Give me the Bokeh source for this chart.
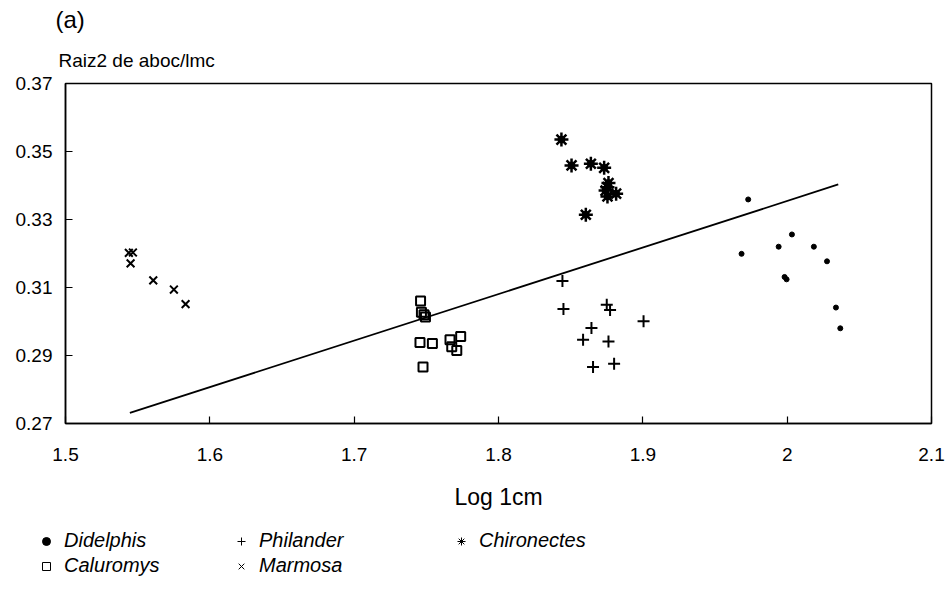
from bokeh.plotting import figure
from bokeh.models import Legend, LegendItem, FixedTicker, ColumnDataSource, Title
from bokeh.embed import file_html
from bokeh.resources import INLINE

# ---- data ----
didelphis_x = [1.973, 2.0033, 1.9941, 1.9684, 2.0185, 2.0276, 1.9982, 1.9996, 2.0338, 2.0368]
didelphis_y = [0.3359, 0.3256, 0.3220, 0.3199, 0.3220, 0.3177, 0.3131, 0.3124, 0.3041, 0.2980]

caluromys_x = [1.7460, 1.7466, 1.7484, 1.7494, 1.7456, 1.7542, 1.7664, 1.7738, 1.7676, 1.7711, 1.7477]
caluromys_y = [0.3060, 0.3027, 0.3020, 0.3013, 0.2938, 0.2935, 0.2946, 0.2956, 0.2926, 0.2915, 0.2866]

philander_x = [1.8443, 1.8450, 1.8750, 1.8773, 1.9005, 1.8644, 1.8586, 1.8762, 1.8655, 1.8801]
philander_y = [0.3119, 0.3037, 0.3049, 0.3034, 0.3001, 0.2981, 0.2946, 0.2941, 0.2866, 0.2876]

marmosa_x = [1.5439, 1.5467, 1.5451, 1.5608, 1.5751, 1.5832]
marmosa_y = [0.3202, 0.3203, 0.3171, 0.3121, 0.3094, 0.3051]

chironectes_x = [1.8436, 1.8506, 1.8640, 1.8732, 1.8762, 1.8755, 1.8755, 1.8815, 1.8605, 1.8742]
chironectes_y = [0.3535, 0.3459, 0.3464, 0.3452, 0.3407, 0.3395, 0.3368, 0.3376, 0.3314, 0.3385]

fit_x = [1.5446, 2.0354]
fit_y = [0.2731, 0.3403]

x_ticks = [1.5, 1.6, 1.7, 1.8, 1.9, 2.0, 2.1]
x_tick_labels = ["1.5", "1.6", "1.7", "1.8", "1.9", "2", "2.1"]
y_ticks = [0.27, 0.29, 0.31, 0.33, 0.35, 0.37]
y_tick_labels = ["0.27", "0.29", "0.31", "0.33", "0.35", "0.37"]

series_names = ["Didelphis", "Caluromys", "Philander", "Marmosa", "Chironectes"]

FONT = "Liberation Sans"

# ---------------- main chart ----------------
p = figure(width=952, height=520, output_backend="svg", toolbar_location=None,
           x_range=(1.5, 2.1), y_range=(0.27, 0.37),
           min_border_left=65, min_border_right=21, min_border_top=83, min_border_bottom=97)
p.background_fill_color = "white"
p.border_fill_color = "white"
p.grid.visible = False
p.outline_line_color = "black"
p.outline_line_width = 1.5

for ax in (p.xaxis[0], p.yaxis[0]):
    ax.axis_line_width = 1.5
    ax.major_tick_in = 7
    ax.major_tick_out = 0
    ax.minor_tick_in = 0
    ax.minor_tick_out = 0
    ax.major_tick_line_width = 1.2
    ax.major_label_text_font = FONT
    ax.major_label_text_font_size = "19px"
    ax.major_label_text_color = "black"

p.xaxis[0].ticker = FixedTicker(ticks=x_ticks)
p.yaxis[0].ticker = FixedTicker(ticks=y_ticks)
p.xaxis[0].major_label_overrides = {t: l for t, l in zip(x_ticks, x_tick_labels)}
p.yaxis[0].major_label_overrides = {t: l for t, l in zip(y_ticks, y_tick_labels)}
p.xaxis[0].major_label_standoff = 24
p.yaxis[0].major_label_standoff = 13

p.xaxis[0].axis_label = "Log 1cm"
p.xaxis[0].axis_label_text_font = FONT
p.xaxis[0].axis_label_text_font_size = "23px"
p.xaxis[0].axis_label_text_font_style = "normal"
p.xaxis[0].axis_label_text_color = "black"
p.xaxis[0].axis_label_standoff = 20

# titles above the plot
t1 = Title(text="Raiz2 de aboc/lmc", align="left", offset=-7, standoff=26,
           text_font=FONT, text_font_size="19px", text_font_style="normal", text_color="black")
t2 = Title(text="(a)", align="left", offset=-10, standoff=3,
           text_font=FONT, text_font_size="24px", text_font_style="normal", text_color="black")
p.add_layout(t1, "above")
p.add_layout(t2, "above")

# regression line
p.line(fit_x, fit_y, line_color="black", line_width=1.8)

# data
p.scatter(didelphis_x, didelphis_y, marker="circle", size=5, fill_color="black", line_color="black")
p.scatter(caluromys_x, caluromys_y, marker="square", size=9, fill_color=None, line_color="black", line_width=2)
p.scatter(philander_x, philander_y, marker="cross", size=12, line_color="black", line_width=2)
p.scatter(marmosa_x, marmosa_y, marker="x", size=11, line_color="black", line_width=2)
p.scatter(chironectes_x, chironectes_y, marker="asterisk", size=14, line_color="black", line_width=2.5)
p.scatter(chironectes_x, chironectes_y, marker="circle", size=7, fill_color="black", line_color="black")

# ---------------- legend strip (separate root, full-width frame) ----------------
lf = figure(width=952, height=71, output_backend="svg", toolbar_location=None,
            x_range=(0, 1), y_range=(0, 1), min_border=0,
            x_axis_type=None, y_axis_type=None)
lf.grid.visible = False
lf.outline_line_color = None
lf.background_fill_color = "white"
lf.border_fill_color = "white"

# swatch renderers: one point each, placed outside the strip's visible range
def swatch(**kw):
    return lf.scatter("x", "y", source=ColumnDataSource(dict(x=[-5], y=[-5])), **kw)

l_did = swatch(marker="circle", size=7, fill_color="black", line_color="black")
l_cal = swatch(marker="square", size=9, fill_color=None, line_color="black", line_width=1)
l_phi = swatch(marker="cross", size=9, line_color="black", line_width=1)
l_mar = swatch(marker="x", size=7, line_color="black", line_width=1)
l_chi = swatch(marker="asterisk", size=6, line_color="black", line_width=1)


def add_legend(items, loc):
    lg = Legend(items=items, location=loc, orientation="vertical")
    lg.border_line_color = None
    lg.background_fill_alpha = 0
    lg.padding = 0
    lg.margin = 0
    lg.spacing = 2
    lg.glyph_width = 20
    lg.glyph_height = 20
    lg.label_height = 20
    lg.label_standoff = 8
    lg.label_text_font = FONT
    lg.label_text_font_style = "italic"
    lg.label_text_font_size = "20px"
    lg.label_text_color = "black"
    lf.add_layout(lg, "center")


add_legend([LegendItem(label=series_names[0], renderers=[l_did]),
            LegendItem(label=series_names[1], renderers=[l_cal])], (36, 14))
add_legend([LegendItem(label=series_names[2], renderers=[l_phi]),
            LegendItem(label=series_names[3], renderers=[l_mar])], (231, 14))
add_legend([LegendItem(label=series_names[4], renderers=[l_chi])], (451, 39))

open("out.html", "w").write(file_html([p, lf], INLINE))
